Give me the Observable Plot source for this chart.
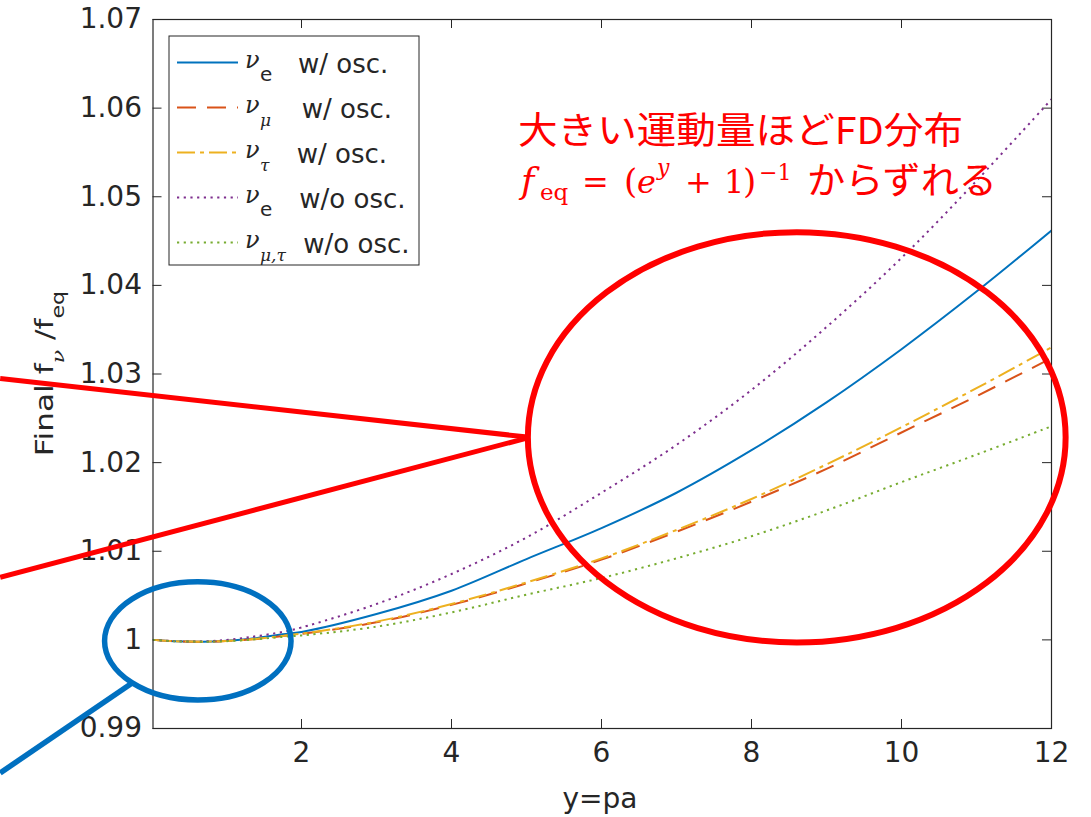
<!DOCTYPE html>
<html><head><meta charset="utf-8">
<script src="https://cdn.jsdelivr.net/npm/d3@7"></script>
<script src="https://cdn.jsdelivr.net/npm/@observablehq/plot@0.6"></script>
<style>body{margin:0;background:#fff} svg{overflow:visible}</style>
</head><body><div id="chart"></div>
<script>
// ---- data ----
const xs = [0.02, 0.3, 0.6, 0.9, 1.3, 1.75, 2, 3, 4, 5, 6, 7, 8, 9, 10, 11, 12];
const nueOsc       = [1.0000, 0.99985, 0.99980, 0.99985, 1.00010, 1.00064, 1.00090, 1.00292, 1.00555, 1.00912, 1.01261, 1.0166, 1.0214, 1.0268, 1.0328, 1.0393, 1.0462];
const numuOsc      = [1.0000, 0.99985, 0.99980, 0.99983, 1.00003, 1.00043, 1.00067, 1.00198, 1.00395, 1.00638, 1.00905, 1.0122, 1.0156, 1.0193, 1.0234, 1.0275, 1.0318];
const nutauOsc     = [1.0000, 0.99985, 0.99980, 0.99984, 1.00004, 1.00045, 1.00070, 1.00206, 1.00405, 1.00649, 1.00919, 1.0124, 1.0159, 1.0198, 1.0240, 1.0284, 1.0330];
const nueNoOsc     = [1.0000, 0.99986, 0.99982, 0.99992, 1.00030, 1.00090, 1.00140, 1.00405, 1.00743, 1.01156, 1.0166, 1.0220, 1.0282, 1.0353, 1.0431, 1.0518, 1.0610];
const numutauNoOsc = [1.0000, 0.99985, 0.99980, 0.99982, 1.00000, 1.00034, 1.00050, 1.00149, 1.00310, 1.00510, 1.00698, 1.0092, 1.0117, 1.0146, 1.0178, 1.0209, 1.0241];
const xTicks = [2, 4, 6, 8, 10, 12];
const yTicks = [0.99, 1.00, 1.01, 1.02, 1.03, 1.04, 1.05, 1.06, 1.07];
const seriesSub  = ["e", "μ", "τ", "e", "μ,τ"];
const seriesText = ["w/ osc.", "w/ osc.", "w/ osc.", "w/o osc.", "w/o osc."];
const xLabel = "y=pa";
const noteLine1 = "大きい運動量ほどFD分布";
const noteLine2 = "からずれる";

// annotation shapes, in data units
const redEllipse = {cx: 8.61, cy: 1.0228, rx: 3.585, ry: 0.02315};
const redLines = [{x1: -2.011, y1: 1.02944, x2: 5.05, y2: 1.0228}, {x1: -2.011, y1: 1.00701, x2: 5.05, y2: 1.0228}];
const blueEllipse = {cx: 0.624, cy: 0.99983, rx: 1.243, ry: 0.00667};
const blueLines = [{x1: -2.011, y1: 0.98493, x2: -0.256, y2: 0.99504}];

// ---- styling ----
const W = 1091, H = 817, mL = 152.5, mR = 40, mT = 19, mB = 89;
const innerW = W - mL - mR, innerH = H - mT - mB;
const ink = "#262626";
const series = [
  {vals: nueOsc,       color: "#0072BD", dash: null},
  {vals: numuOsc,      color: "#D95319", dash: "19,11"},
  {vals: nutauOsc,     color: "#EDB120", dash: "18,5,4,5"},
  {vals: nueNoOsc,     color: "#7E2F8E", dash: "2.2,4.5"},
  {vals: numutauNoOsc, color: "#77AC30", dash: "2.2,4.5"}
];

const lineMarks = series.map(s => Plot.line(xs.map((x, i) => ({x, y: s.vals[i]})), {
  x: "x", y: "y", stroke: s.color, strokeWidth: 2, strokeDasharray: s.dash,
  strokeLinecap: "butt", curve: "catmull-rom", clip: true
}));

const chart = Plot.plot({
  width: W, height: H,
  marginLeft: mL, marginRight: mR, marginTop: mT, marginBottom: mB,
  style: {fontFamily: "'DejaVu Sans', sans-serif", fontSize: "28px", color: ink, background: "white", overflow: "visible"},
  x: {domain: [0.02, 12]},
  y: {domain: [0.99, 1.07]},
  marks: [
    Plot.axisX({ticks: xTicks, tickSize: 0, tickPadding: 14, label: null, fontSize: 28, fill: ink}),
    Plot.axisY({ticks: yTicks, tickSize: 0, tickPadding: 11, label: null, fontSize: 28, fill: ink,
      tickFormat: d => Math.abs(d - 1) < 1e-9 ? "1" : d3.format(".2f")(d)}),
    Plot.tickX(xTicks, {x: d => d, insetTop: innerH - 9, stroke: ink, strokeWidth: 1}),
    Plot.tickX(xTicks, {x: d => d, insetBottom: innerH - 9, stroke: ink, strokeWidth: 1}),
    Plot.tickY(yTicks, {y: d => d, insetRight: innerW - 9, stroke: ink, strokeWidth: 1}),
    Plot.tickY(yTicks, {y: d => d, insetLeft: innerW - 9, stroke: ink, strokeWidth: 1}),
    ...lineMarks,
    Plot.frame({stroke: ink, strokeWidth: 1.2})
  ]
});
document.getElementById("chart").append(chart);

const sx = chart.scale("x"), sy = chart.scale("y");
const X = v => sx.apply(v), Y = v => sy.apply(v);
const svg = d3.select(chart);
const serif = "'DejaVu Serif', 'Liberation Serif', serif";
const cjk = "'Noto Sans CJK JP', sans-serif";

// ---- axis labels ----
svg.append("text").attr("x", 600).attr("y", 808).attr("text-anchor", "middle")
  .attr("font-size", 28).attr("fill", ink).text(xLabel);

const yl = svg.append("text").attr("transform", "translate(53,373.5) rotate(-90) scale(1.3,1)")
  .attr("text-anchor", "middle").attr("font-size", 24).attr("fill", ink);
yl.append("tspan").text("Final f");
yl.append("tspan").attr("font-family", serif).attr("font-style", "italic").attr("font-size", 17).attr("dy", 11).text("ν");
yl.append("tspan").attr("dy", -11).text(" /f");
yl.append("tspan").attr("font-size", 17).attr("dy", 11).text("eq");

// ---- legend ----
const lg = svg.append("g").attr("text-anchor", "start");
lg.append("rect").attr("x", 169).attr("y", 36).attr("width", 250).attr("height", 229)
  .attr("fill", "white").attr("stroke", ink).attr("stroke-width", 1);
const textX = [298, 301.7, 296.7, 299.3, 303.3];
series.forEach((s, i) => {
  const base = 73.3 + 45 * i;
  lg.append("line").attr("x1", 177).attr("x2", 238).attr("y1", base - 10.7).attr("y2", base - 10.7)
    .attr("stroke", s.color).attr("stroke-width", 2).attr("stroke-dasharray", s.dash).attr("stroke-linecap", "butt");
  lg.append("text").attr("x", 245).attr("y", base - 5).attr("font-family", serif).attr("font-style", "italic")
    .attr("font-size", 24).attr("fill", ink).text("ν");
  const isLatin = seriesSub[i] === "e";
  lg.append("text").attr("x", 260).attr("y", base + 7.5)
    .attr("font-family", isLatin ? null : serif).attr("font-style", isLatin ? null : "italic")
    .attr("font-size", isLatin ? 20 : 17).attr("fill", ink).text(seriesSub[i]);
  lg.append("text").attr("x", textX[i]).attr("y", base).attr("font-size", 26).attr("fill", ink).text(seriesText[i]);
});

// ---- annotations ----
const ann = svg.append("g").attr("text-anchor", "start");
redLines.forEach(l => ann.append("line").attr("x1", X(l.x1)).attr("y1", Y(l.y1)).attr("x2", X(l.x2)).attr("y2", Y(l.y2))
  .attr("stroke", "#FF0000").attr("stroke-width", 5).attr("stroke-linecap", "butt"));
ann.append("ellipse").attr("cx", X(redEllipse.cx)).attr("cy", Y(redEllipse.cy))
  .attr("rx", X(redEllipse.cx + redEllipse.rx) - X(redEllipse.cx))
  .attr("ry", Y(redEllipse.cy - redEllipse.ry) - Y(redEllipse.cy))
  .attr("fill", "none").attr("stroke", "#FF0000").attr("stroke-width", 6);
blueLines.forEach(l => ann.append("line").attr("x1", X(l.x1)).attr("y1", Y(l.y1)).attr("x2", X(l.x2)).attr("y2", Y(l.y2))
  .attr("stroke", "#0070C0").attr("stroke-width", 5.5).attr("stroke-linecap", "butt"));
ann.append("ellipse").attr("cx", X(blueEllipse.cx)).attr("cy", Y(blueEllipse.cy))
  .attr("rx", X(blueEllipse.cx + blueEllipse.rx) - X(blueEllipse.cx))
  .attr("ry", Y(blueEllipse.cy - blueEllipse.ry) - Y(blueEllipse.cy))
  .attr("fill", "none").attr("stroke", "#0070C0").attr("stroke-width", 5.5);

// ---- red note text ----
ann.append("text").attr("x", 518).attr("y", 143.5).attr("font-family", cjk).attr("font-size", 37)
  .attr("fill", "#FF0000").attr("textLength", 445).attr("lengthAdjust", "spacingAndGlyphs").text(noteLine1);
const parts = [
  {t: "f",  x: 521, y: 193, s: 36, i: true},
  {t: "eq", x: 540, y: 200, s: 23},
  {t: "=",  x: 582, y: 193, s: 32},
  {t: "(",  x: 624, y: 193, s: 34},
  {t: "e",  x: 637, y: 193, s: 32, i: true},
  {t: "y",  x: 657, y: 175, s: 22, i: true},
  {t: "+",  x: 685, y: 193, s: 32},
  {t: "1",  x: 724, y: 193, s: 32},
  {t: ")",  x: 743, y: 193, s: 34},
  {t: "−1", x: 759, y: 180, s: 22}
];
const ft = ann.append("text").attr("fill", "#FF0000").attr("font-family", serif);
parts.forEach(p => ft.append("tspan").attr("x", p.x).attr("y", p.y).attr("font-size", p.s)
  .attr("font-style", p.i ? "italic" : null).text(p.t));
ann.append("text").attr("x", 807).attr("y", 194).attr("font-family", cjk).attr("font-size", 37)
  .attr("fill", "#FF0000").attr("textLength", 190).attr("lengthAdjust", "spacingAndGlyphs").text(noteLine2);
</script>
</body></html>
